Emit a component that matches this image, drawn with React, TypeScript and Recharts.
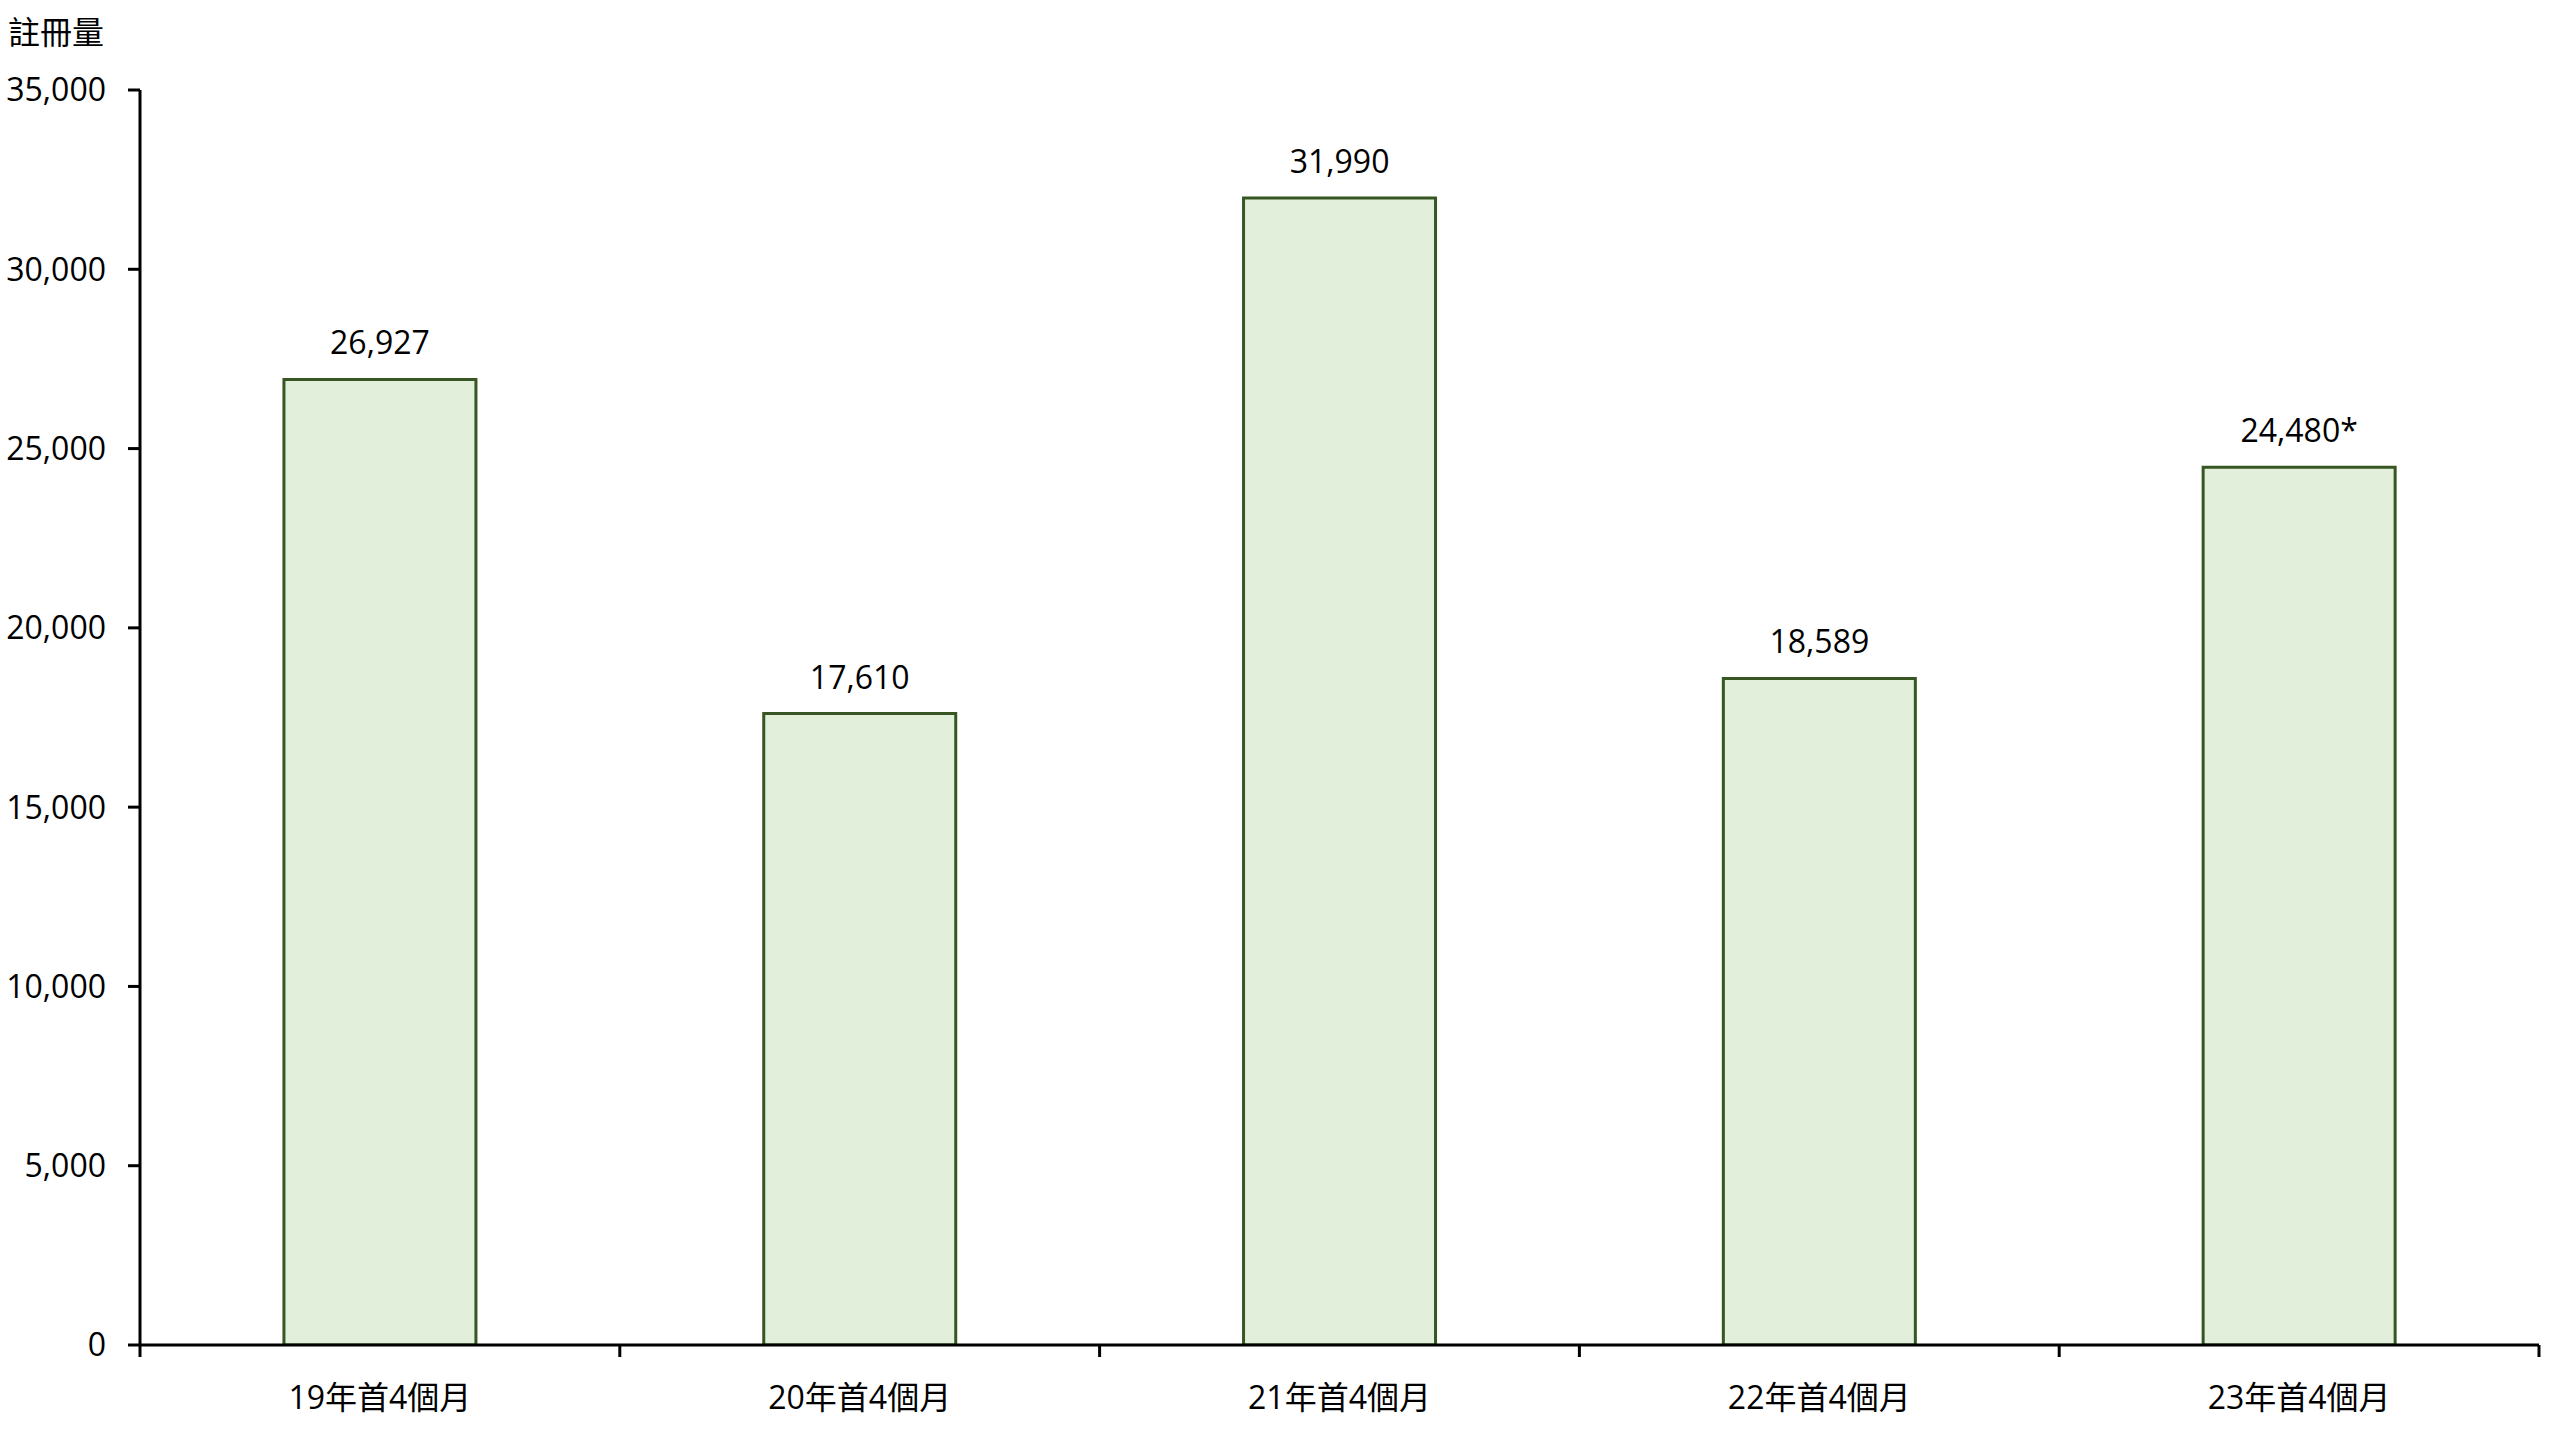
import { BarChart, Bar, XAxis, YAxis, LabelList } from 'recharts'

const categories = ['19年首4個月', '20年首4個月', '21年首4個月', '22年首4個月', '23年首4個月']
const registrations = [26927, 17610, 31990, 18589, 24480]
const valueNotes = ['', '', '', '', '*']
const yTicks = [0, 5000, 10000, 15000, 20000, 25000, 30000, 35000]

const W = 2560
const H = 1440
const MARGIN = { top: 90, right: 21, bottom: 0, left: 0 }
const Y_AXIS_W = 140
const X_AXIS_H = 95
const BAND = (W - MARGIN.left - MARGIN.right - Y_AXIS_W) / categories.length

const FONT = '"Open Sans", "Noto Sans CJK TC", sans-serif'
const AXIS_COLOR = '#000'
const fmt = (v: number) => v.toLocaleString('en-US')

const data = categories.map((c, i) => ({
  name: c,
  value: registrations[i],
  label: fmt(registrations[i]) + valueNotes[i],
}))

// category label in the middle, tick marks on the band edges
function CategoryTick(props: any) {
  const { x, y, index, payload } = props
  const left = x - BAND / 2
  const right = x + BAND / 2
  return (
    <g>
      <line x1={left} y1={y} x2={left} y2={y + 12} stroke={AXIS_COLOR} strokeWidth={3} />
      {index === categories.length - 1 && (
        <line x1={right} y1={y} x2={right} y2={y + 12} stroke={AXIS_COLOR} strokeWidth={3} />
      )}
      <text x={x} y={y + 64} textAnchor="middle" fontSize={32} fontFamily={FONT} fill="#000">
        {payload.value}
      </text>
    </g>
  )
}

export default function App() {
  return (
    <div style={{ position: 'absolute', left: 0, top: 0, width: W, height: H, background: '#fff' }}>
      <div style={{
        position: 'absolute', left: 8, top: 12, fontSize: 32, fontFamily: FONT,
        color: '#000', lineHeight: '40px',
      }}>
        註冊量
      </div>
      <BarChart width={W} height={H} data={data} margin={MARGIN} barCategoryGap="30%">
        <XAxis
          dataKey="name"
          height={X_AXIS_H}
          tickLine={false}
          tickSize={0}
          tickMargin={0}
          axisLine={{ stroke: AXIS_COLOR, strokeWidth: 3 }}
          tick={<CategoryTick />}
          interval={0}
        />
        <YAxis
          width={Y_AXIS_W}
          domain={[0, 35000]}
          ticks={yTicks}
          tickFormatter={fmt}
          tickSize={12}
          tickMargin={22}
          axisLine={{ stroke: AXIS_COLOR, strokeWidth: 3 }}
          tickLine={{ stroke: AXIS_COLOR, strokeWidth: 3 }}
          tick={{ fontSize: 32, fontFamily: FONT, fill: '#000' }}
          allowDataOverflow
        />
        <Bar dataKey="value" fill="#E2EFDA" stroke="#375623" strokeWidth={3} isAnimationActive={false}>
          <LabelList dataKey="label" position="top" offset={25}
            style={{ fontSize: 32, fontFamily: FONT, fill: '#000' }} />
        </Bar>
      </BarChart>
    </div>
  )
}
